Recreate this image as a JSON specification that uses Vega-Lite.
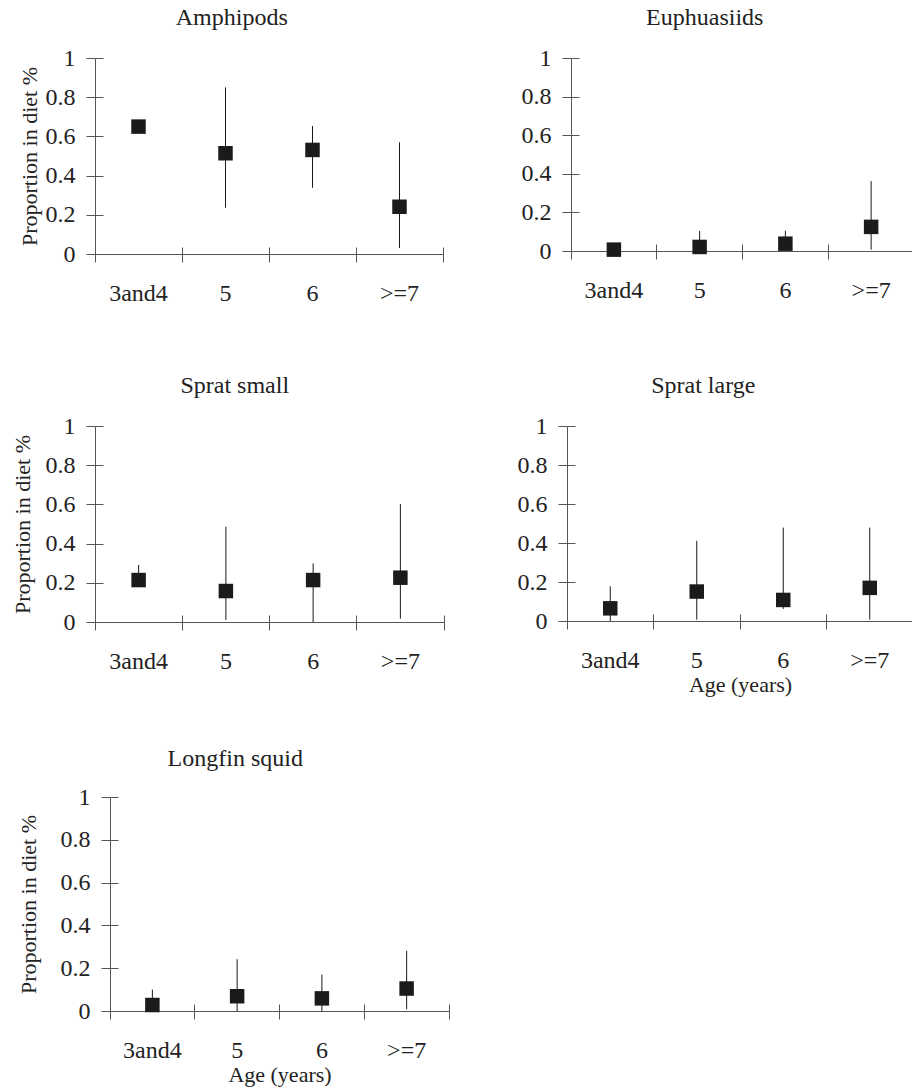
{
  "$schema": "https://vega.github.io/schema/vega-lite/v6.json",
  "padding": {"left": 10, "top": 6, "right": 0, "bottom": 5},
  "background": "white",
  "data": {"values": [
    {"prey": "Amphipods", "age": "3and4", "mean": 0.65, "lo": 0.63, "hi": 0.67},
    {"prey": "Amphipods", "age": "5", "mean": 0.514, "lo": 0.236, "hi": 0.85},
    {"prey": "Amphipods", "age": "6", "mean": 0.531, "lo": 0.338, "hi": 0.653},
    {"prey": "Amphipods", "age": ">=7", "mean": 0.241, "lo": 0.031, "hi": 0.57},
    {"prey": "Euphuasiids", "age": "3and4", "mean": 0.007, "lo": 0.0, "hi": 0.01},
    {"prey": "Euphuasiids", "age": "5", "mean": 0.021, "lo": 0.0, "hi": 0.104},
    {"prey": "Euphuasiids", "age": "6", "mean": 0.038, "lo": 0.0, "hi": 0.105},
    {"prey": "Euphuasiids", "age": ">=7", "mean": 0.125, "lo": 0.007, "hi": 0.362},
    {"prey": "Sprat small", "age": "3and4", "mean": 0.214, "lo": 0.19, "hi": 0.291},
    {"prey": "Sprat small", "age": "5", "mean": 0.158, "lo": 0.01, "hi": 0.486},
    {"prey": "Sprat small", "age": "6", "mean": 0.214, "lo": 0.0, "hi": 0.299},
    {"prey": "Sprat small", "age": ">=7", "mean": 0.226, "lo": 0.017, "hi": 0.602},
    {"prey": "Sprat large", "age": "3and4", "mean": 0.065, "lo": 0.0, "hi": 0.178},
    {"prey": "Sprat large", "age": "5", "mean": 0.151, "lo": 0.007, "hi": 0.411},
    {"prey": "Sprat large", "age": "6", "mean": 0.108, "lo": 0.062, "hi": 0.479},
    {"prey": "Sprat large", "age": ">=7", "mean": 0.17, "lo": 0.007, "hi": 0.479},
    {"prey": "Longfin squid", "age": "3and4", "mean": 0.028, "lo": 0.0, "hi": 0.1},
    {"prey": "Longfin squid", "age": "5", "mean": 0.069, "lo": 0.0, "hi": 0.242},
    {"prey": "Longfin squid", "age": "6", "mean": 0.059, "lo": 0.0, "hi": 0.17},
    {"prey": "Longfin squid", "age": ">=7", "mean": 0.105, "lo": 0.008, "hi": 0.281}
  ]},
  "vconcat": [
    {
      "vconcat": [
        {
          "hconcat": [
            {
              "title": {"text": "Amphipods", "dx": 1},
              "width": 348, "height": 196,
              "transform": [{"filter": "datum.prey === 'Amphipods'"}],
              "layer": [
                {"mark": {"type": "rule", "color": "#1a1a1a", "strokeWidth": 1},
                 "encoding": {
                   "x": {"field": "age", "type": "nominal", "sort": ["3and4", "5", "6", ">=7"], "scale": {"type": "band", "paddingInner": 0, "paddingOuter": 0},
                         "axis": {"orient": "bottom", "bandPosition": 1, "tickExtra": true, "tickSize": 8, "labelPadding": 19, "labelAngle": 0, "title": null}},
                   "y": {"field": "lo", "type": "quantitative", "scale": {"domain": [0, 1], "nice": false},
                         "axis": {"orient": "left", "values": [0, 0.2, 0.4, 0.6, 0.8, 1], "format": "~g", "tickSize": 9, "labelPadding": 11, "title": "Proportion in diet %", "titleX": -66, "titleBaseline": "middle"}},
                   "y2": {"field": "hi"}
                 }},
                {"mark": {"type": "square", "size": 210, "color": "#1c1a1a", "opacity": 1},
                 "encoding": {
                   "x": {"field": "age", "type": "nominal", "sort": ["3and4", "5", "6", ">=7"], "scale": {"type": "band", "paddingInner": 0, "paddingOuter": 0},
                         "axis": {"orient": "bottom", "bandPosition": 1, "tickExtra": true, "tickSize": 7, "offset": -7, "labels": false, "domain": false, "title": null}},
                   "y": {"field": "mean", "type": "quantitative", "scale": {"domain": [0, 1], "nice": false},
                         "axis": {"orient": "left", "values": [0, 0.2, 0.4, 0.6, 0.8, 1], "tickSize": 8, "offset": -8, "labels": false, "domain": false, "title": null}}
                 }}
              ],
              "resolve": {"axis": {"x": "independent", "y": "independent"}}
            },
            {
              "title": {"text": "Euphuasiids", "dx": -13},
              "width": 343, "height": 193,
              "transform": [{"filter": "datum.prey === 'Euphuasiids'"}],
              "layer": [
                {"mark": {"type": "rule", "color": "#1a1a1a", "strokeWidth": 1},
                 "encoding": {
                   "x": {"field": "age", "type": "nominal", "sort": ["3and4", "5", "6", ">=7"], "scale": {"type": "band", "paddingInner": 0, "paddingOuter": 0},
                         "axis": {"orient": "bottom", "bandPosition": 1, "tickExtra": true, "tickSize": 8, "labelPadding": 19, "labelAngle": 0, "title": null}},
                   "y": {"field": "lo", "type": "quantitative", "scale": {"domain": [0, 1], "nice": false},
                         "axis": {"orient": "left", "values": [0, 0.2, 0.4, 0.6, 0.8, 1], "format": "~g", "tickSize": 9, "labelPadding": 11, "title": null}},
                   "y2": {"field": "hi"}
                 }},
                {"mark": {"type": "square", "size": 210, "color": "#1c1a1a", "opacity": 1},
                 "encoding": {
                   "x": {"field": "age", "type": "nominal", "sort": ["3and4", "5", "6", ">=7"], "scale": {"type": "band", "paddingInner": 0, "paddingOuter": 0},
                         "axis": {"orient": "bottom", "bandPosition": 1, "tickExtra": true, "tickSize": 7, "offset": -7, "labels": false, "domain": false, "title": null}},
                   "y": {"field": "mean", "type": "quantitative", "scale": {"domain": [0, 1], "nice": false},
                         "axis": {"orient": "left", "values": [0, 0.2, 0.4, 0.6, 0.8, 1], "tickSize": 8, "offset": -8, "labels": false, "domain": false, "title": null}}
                 }}
              ],
              "resolve": {"axis": {"x": "independent", "y": "independent"}}
            }
          ],
          "spacing": 77
        },
        {
          "hconcat": [
            {
              "title": {"text": "Sprat small", "dx": 7},
              "width": 349, "height": 196,
              "transform": [{"filter": "datum.prey === 'Sprat small'"}],
              "layer": [
                {"mark": {"type": "rule", "color": "#1a1a1a", "strokeWidth": 1},
                 "encoding": {
                   "x": {"field": "age", "type": "nominal", "sort": ["3and4", "5", "6", ">=7"], "scale": {"type": "band", "paddingInner": 0, "paddingOuter": 0},
                         "axis": {"orient": "bottom", "bandPosition": 1, "tickExtra": true, "tickSize": 8, "labelPadding": 19, "labelAngle": 0, "title": null}},
                   "y": {"field": "lo", "type": "quantitative", "scale": {"domain": [0, 1], "nice": false},
                         "axis": {"orient": "left", "values": [0, 0.2, 0.4, 0.6, 0.8, 1], "format": "~g", "tickSize": 9, "labelPadding": 11, "title": "Proportion in diet %", "titleX": -73, "titleBaseline": "middle"}},
                   "y2": {"field": "hi"}
                 }},
                {"mark": {"type": "square", "size": 210, "color": "#1c1a1a", "opacity": 1},
                 "encoding": {
                   "x": {"field": "age", "type": "nominal", "sort": ["3and4", "5", "6", ">=7"], "scale": {"type": "band", "paddingInner": 0, "paddingOuter": 0},
                         "axis": {"orient": "bottom", "bandPosition": 1, "tickExtra": true, "tickSize": 7, "offset": -7, "labels": false, "domain": false, "title": null}},
                   "y": {"field": "mean", "type": "quantitative", "scale": {"domain": [0, 1], "nice": false},
                         "axis": {"orient": "left", "values": [0, 0.2, 0.4, 0.6, 0.8, 1], "tickSize": 8, "offset": -8, "labels": false, "domain": false, "title": null}}
                 }}
              ],
              "resolve": {"axis": {"x": "independent", "y": "independent"}}
            },
            {
              "title": {"text": "Sprat large", "dx": -12},
              "width": 346, "height": 195,
              "transform": [{"filter": "datum.prey === 'Sprat large'"}],
              "layer": [
                {"mark": {"type": "rule", "color": "#1a1a1a", "strokeWidth": 1},
                 "encoding": {
                   "x": {"field": "age", "type": "nominal", "sort": ["3and4", "5", "6", ">=7"], "scale": {"type": "band", "paddingInner": 0, "paddingOuter": 0},
                         "axis": {"orient": "bottom", "bandPosition": 1, "tickExtra": true, "tickSize": 8, "labelPadding": 19, "labelAngle": 0, "title": "Age (years)", "titlePadding": 2}},
                   "y": {"field": "lo", "type": "quantitative", "scale": {"domain": [0, 1], "nice": false},
                         "axis": {"orient": "left", "values": [0, 0.2, 0.4, 0.6, 0.8, 1], "format": "~g", "tickSize": 9, "labelPadding": 11, "title": null}},
                   "y2": {"field": "hi"}
                 }},
                {"mark": {"type": "square", "size": 210, "color": "#1c1a1a", "opacity": 1},
                 "encoding": {
                   "x": {"field": "age", "type": "nominal", "sort": ["3and4", "5", "6", ">=7"], "scale": {"type": "band", "paddingInner": 0, "paddingOuter": 0},
                         "axis": {"orient": "bottom", "bandPosition": 1, "tickExtra": true, "tickSize": 7, "offset": -7, "labels": false, "domain": false, "title": null}},
                   "y": {"field": "mean", "type": "quantitative", "scale": {"domain": [0, 1], "nice": false},
                         "axis": {"orient": "left", "values": [0, 0.2, 0.4, 0.6, 0.8, 1], "tickSize": 8, "offset": -8, "labels": false, "domain": false, "title": null}}
                 }}
              ],
              "resolve": {"axis": {"x": "independent", "y": "independent"}}
            }
          ],
          "spacing": 72
        }
      ],
      "spacing": 69
    },
    {
      "title": {"text": "Longfin squid", "dx": 2, "offset": 14},
      "width": 354, "height": 214,
      "transform": [{"filter": "datum.prey === 'Longfin squid'"}],
      "layer": [
        {"mark": {"type": "rule", "color": "#1a1a1a", "strokeWidth": 1},
         "encoding": {
           "x": {"field": "age", "type": "nominal", "sort": ["3and4", "5", "6", ">=7"], "scale": {"type": "band", "paddingInner": 0, "paddingOuter": 0, "range": [15, 354]},
                 "axis": {"orient": "bottom", "bandPosition": 1, "tickExtra": true, "tickSize": 8, "labelPadding": 19, "labelAngle": 0, "title": "Age (years)", "titlePadding": 2}},
           "y": {"field": "lo", "type": "quantitative", "scale": {"domain": [0, 1], "nice": false},
                 "axis": {"orient": "left", "values": [0, 0.2, 0.4, 0.6, 0.8, 1], "format": "~g", "tickSize": 9, "labelPadding": 11, "offset": -15, "title": "Proportion in diet %", "titleX": -82, "titleBaseline": "middle"}},
           "y2": {"field": "hi"}
         }},
        {"mark": {"type": "square", "size": 210, "color": "#1c1a1a", "opacity": 1},
         "encoding": {
           "x": {"field": "age", "type": "nominal", "sort": ["3and4", "5", "6", ">=7"], "scale": {"type": "band", "paddingInner": 0, "paddingOuter": 0, "range": [15, 354]},
                 "axis": {"orient": "bottom", "bandPosition": 1, "tickExtra": true, "tickSize": 7, "offset": -7, "labels": false, "domain": false, "title": null}},
           "y": {"field": "mean", "type": "quantitative", "scale": {"domain": [0, 1], "nice": false},
                 "axis": {"orient": "left", "values": [0, 0.2, 0.4, 0.6, 0.8, 1], "tickSize": 8, "offset": -23, "labels": false, "domain": false, "title": null}}
         }}
      ],
      "resolve": {"axis": {"x": "independent", "y": "independent"}}
    }
  ],
  "spacing": 52,
  "config": {
    "view": {"stroke": null},
    "axis": {"labelFont": "Liberation Serif", "labelFontSize": 24, "labelColor": "#222222", "titleFont": "Liberation Serif", "titleFontSize": 22, "titleFontWeight": "normal", "titleColor": "#222222", "domainColor": "#555555", "tickColor": "#555555", "grid": false},
    "title": {"font": "Liberation Serif", "fontSize": 24, "fontWeight": "normal", "color": "#222222", "frame": "bounds", "anchor": "middle", "offset": 16}
  }
}
